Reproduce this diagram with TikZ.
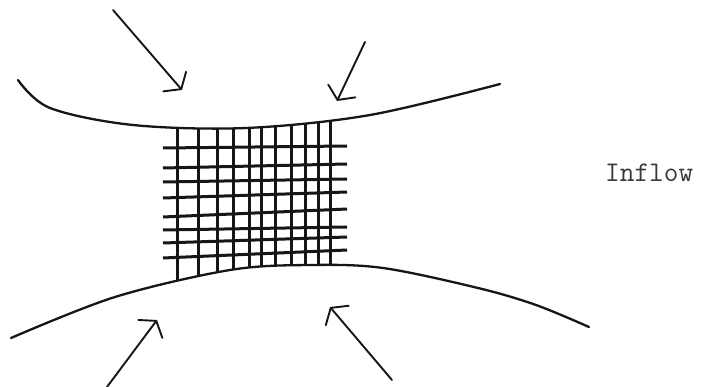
\documentclass[tikz,border=0pt]{standalone}
\usepackage{fontspec}
\usetikzlibrary{arrows.meta}
\definecolor{ink}{HTML}{161616}
\begin{document}
\begin{tikzpicture}[x=1pt,y=-1pt,
  wall/.style={draw=ink,line width=2.3pt,line cap=round},
  gridline/.style={draw=ink,line width=3pt},
  inarrow/.style={draw=ink,line width=1.9pt,line cap=round,
    -{Straight Barb[length=10pt,width=30pt,line cap=round]}},
  label/.style={font=\ttfamily\fontsize{28.5}{28.5}\selectfont,text=ink!85,inner sep=0pt,anchor=base west}]
\useasboundingbox (0,0) rectangle (701,387);
\fill[white] (0,0) rectangle (701,387);
% walls
\draw[wall] plot[smooth,tension=0.55] coordinates {(18,80) (50,108) (133,125) (246,128) (370,115) (500,84)};
\draw[wall] plot[smooth,tension=0.55] coordinates {(11,338) (115,297) (230,270) (310,265) (383,268) (478,288) (536,305) (589,327)};
% vertical grid lines, clipped between the walls
\begin{scope}
\clip plot[smooth,tension=0.55] coordinates {(18,80) (50,108) (133,125) (246,128) (370,115) (500,84)}
  -- (600,84) -- (600,330)
  -- plot[smooth,tension=0.55] coordinates {(589,327) (536,305) (478,288) (383,268) (310,265) (230,270) (115,297) (11,338)}
  -- (0,338) -- (0,80) -- cycle;
\foreach \x in {177,198,217,233,249,261,275,291,305,318,330}
  \draw[gridline] (\x,100) -- (\x,300);
\end{scope}
% horizontal grid lines
\foreach \yl/\yr in {148/146,168/164,182/179,198/192,217/209,230/227,243/237,258/250}
  \draw[gridline] (163,\yl) -- (347,\yr);
% inflow arrows
\coordinate (a1s) at (113,10);  \coordinate (a1e) at (182,90);
\coordinate (a2s) at (365,42);  \coordinate (a2e) at (337,101);
\coordinate (a3s) at (107,387); \coordinate (a3e) at (157,320);
\coordinate (a4s) at (392,380); \coordinate (a4e) at (330,307);
\draw[inarrow] (a1s) -- (a1e);
\draw[inarrow] (a2s) -- (a2e);
\draw[inarrow] (a3s) -- (a3e);
\draw[inarrow] (a4s) -- (a4e);
% label
\node[label] (inflow) at (605,182) {Inflow};
\end{tikzpicture}
\end{document}
